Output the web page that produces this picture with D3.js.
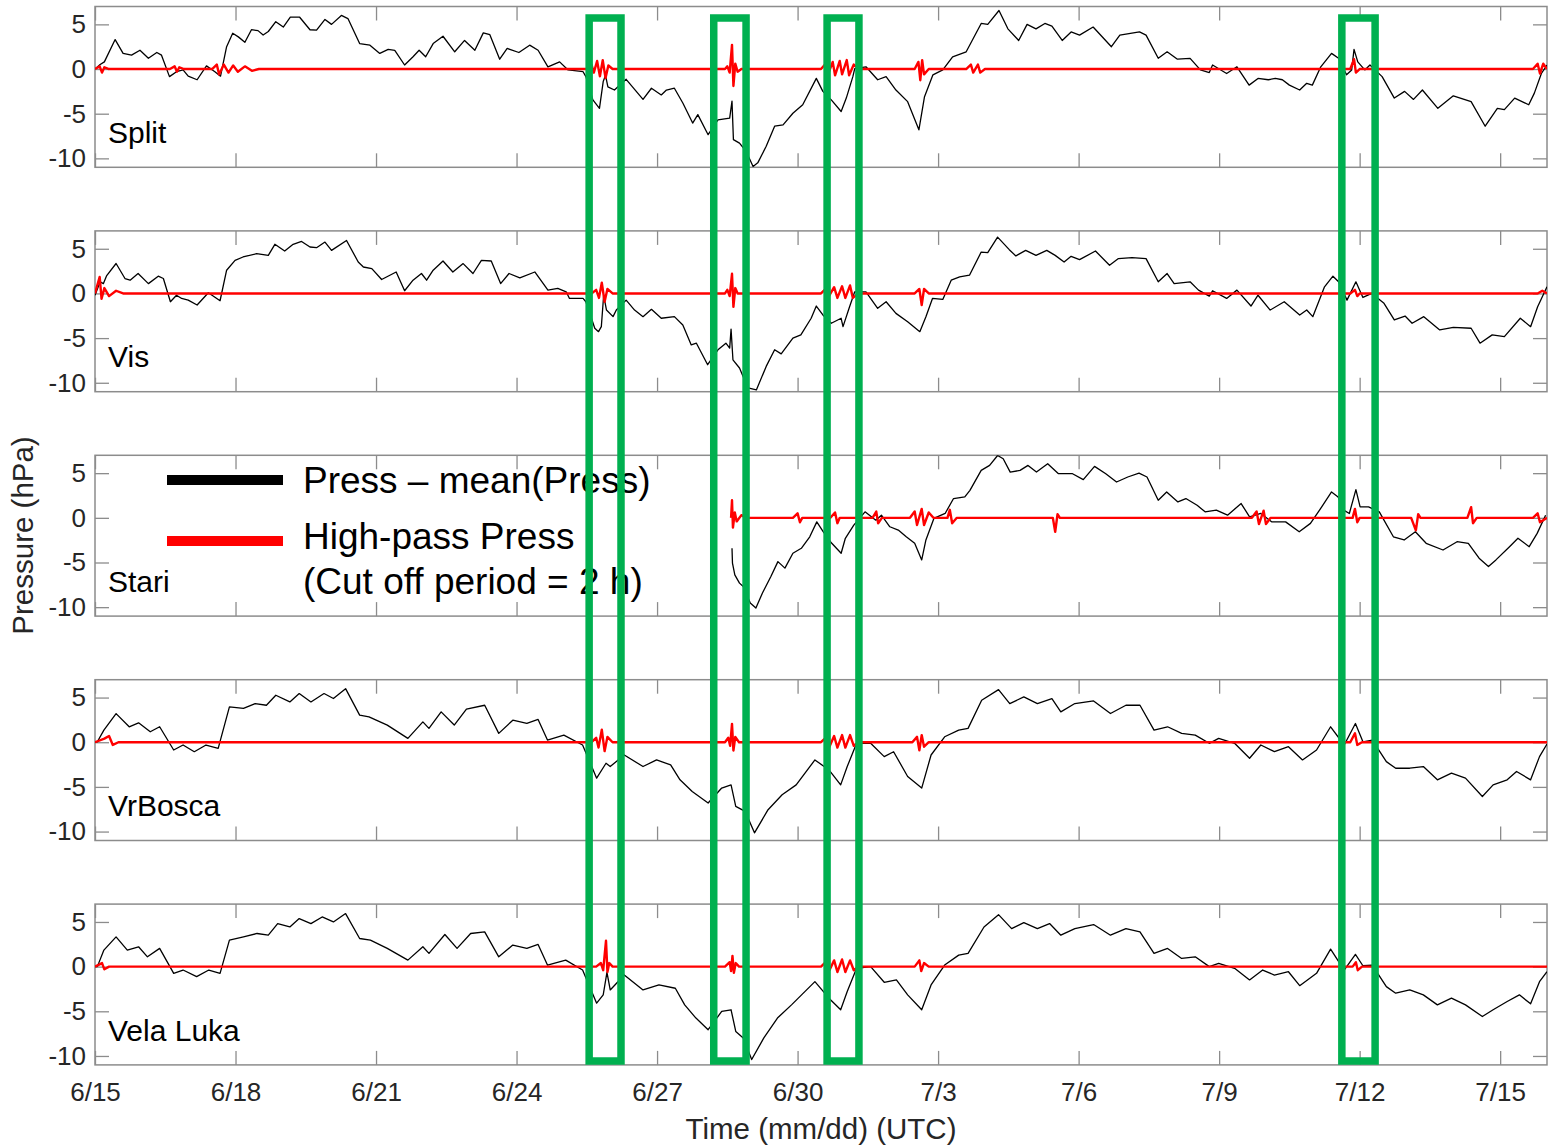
<!DOCTYPE html>
<html>
<head>
<meta charset="utf-8">
<script src="https://cdn.jsdelivr.net/npm/d3@7"></script>
<style>
  body { margin: 0; background: #ffffff; }
  text { font-family: "Liberation Sans", Arial, sans-serif; }
</style>
</head>
<body>
<svg id="mainsvg" width="1548" height="1148"></svg>
<script>
// station names, top to bottom
const stations = ['Split', 'Vis', 'Stari', 'VrBosca', 'Vela Luka'];

// Press - mean(Press), [days since 6/15 00 UTC, hPa]
const splitBlack = [[0,0],[0.11,0.5],[0.2,0.8],[0.43,3.3],[0.6,1.75],[0.78,1.56],[0.96,2.1],[1.14,1.2],[1.32,1.85],[1.42,1.55],[1.59,-0.85],[1.74,-0.3],[1.88,-0.1],[1.99,-0.8],[2.18,-1.2],[2.38,0.35],[2.56,-0.3],[2.68,-0.8],[2.81,2.5],[2.94,4.0],[3.06,3.6],[3.2,3.0],[3.34,4.4],[3.48,4.3],[3.59,3.8],[3.7,4.2],[3.86,5.3],[4.02,4.7],[4.17,5.8],[4.37,5.8],[4.59,4.4],[4.73,4.35],[4.91,5.55],[5.05,5.0],[5.26,6.0],[5.4,5.65],[5.65,2.85],[5.87,2.67],[6.08,1.75],[6.26,2.2],[6.4,2.1],[6.61,0.45],[6.79,1.37],[6.92,2.1],[7.06,1.37],[7.22,2.85],[7.43,3.67],[7.68,1.93],[7.89,3.2],[8.11,2.1],[8.29,4.05],[8.43,3.85],[8.64,1.1],[8.8,2.3],[9.05,1.85],[9.28,2.67],[9.46,2.1],[9.67,0.25],[9.92,0.8],[10.1,-0.1],[10.42,-0.3],[10.48,-0.85],[10.63,-3.45],[10.77,-4.4],[10.85,-1.4],[10.9,-0.7],[10.95,-2.0],[11.09,-2.35],[11.34,-1.15],[11.7,-3.4],[11.88,-2.15],[12.09,-2.9],[12.2,-2.35],[12.37,-2.15],[12.55,-3.8],[12.76,-6.05],[12.87,-5.1],[13.09,-7.35],[13.3,-5.7],[13.55,-5.5],[13.6,-3.6],[13.63,-7.9],[13.76,-8.3],[13.9,-9.2],[14.05,-10.9],[14.15,-10.5],[14.33,-8.65],[14.51,-6.4],[14.69,-6.25],[14.9,-4.95],[15.11,-4.0],[15.4,-1.05],[15.54,-2.5],[15.72,-3.45],[15.93,-4.75],[16.04,-3.25],[16.18,-0.85],[16.22,0.05],[16.46,0.25],[16.71,-1.2],[16.89,-0.85],[17.1,-2.35],[17.35,-3.65],[17.59,-6.8],[17.71,-3.1],[17.89,-0.65],[18.1,-0.1],[18.31,1.37],[18.6,1.93],[18.92,5.1],[19.06,5.0],[19.3,6.55],[19.49,4.5],[19.72,3.2],[19.9,5.0],[20.09,4.5],[20.28,5.1],[20.43,4.8],[20.65,3.2],[20.84,4.15],[21.02,3.8],[21.31,4.7],[21.7,2.5],[21.88,3.8],[22.3,4.15],[22.44,3.8],[22.7,1.2],[22.89,1.93],[23.11,1.1],[23.38,1.2],[23.6,-0.1],[23.79,-0.4],[23.86,0.45],[24.16,-0.5],[24.38,0.25],[24.64,-1.8],[24.83,-1.05],[25.05,-1.2],[25.2,-1.05],[25.35,-1.2],[25.5,-1.8],[25.72,-2.35],[25.87,-1.6],[25.99,-1.8],[26.17,0.25],[26.4,1.75],[26.55,1.2],[26.72,-0.65],[26.83,-0.1],[26.88,2.2],[26.96,0.8],[27.11,-0.1],[27.22,0.45],[27.48,-0.85],[27.74,-3.25],[27.96,-2.5],[28.15,-3.4],[28.34,-2.35],[28.67,-4.4],[29.0,-3.0],[29.38,-3.65],[29.68,-6.4],[29.94,-4.4],[30.09,-4.55],[30.31,-3.25],[30.61,-4.0],[30.73,-2.7],[30.88,-0.5],[31.0,0.45]];

const visBlack = [[0,-0.2],[0.11,1.3],[0.18,1.1],[0.25,2.0],[0.45,3.35],[0.64,1.67],[0.75,1.48],[0.92,2.23],[1.14,1.1],[1.35,1.93],[1.46,1.67],[1.61,-0.93],[1.74,-0.2],[1.85,-0.56],[1.99,-0.75],[2.18,-1.3],[2.42,0.07],[2.67,-0.82],[2.81,2.6],[2.99,3.7],[3.16,4.08],[3.45,4.45],[3.7,4.26],[3.84,5.5],[4.05,4.75],[4.23,5.5],[4.41,5.82],[4.59,5.2],[4.73,5.12],[4.91,5.75],[5.05,4.82],[5.37,5.93],[5.62,3.52],[5.73,2.96],[5.91,2.78],[6.12,1.56],[6.43,2.4],[6.61,0.3],[6.79,1.48],[6.97,2.23],[7.08,1.48],[7.22,2.6],[7.43,3.63],[7.64,2.4],[7.86,3.34],[8.07,2.23],[8.25,3.7],[8.46,3.63],[8.66,1.1],[8.84,2.23],[9.07,1.75],[9.39,2.4],[9.67,0.37],[9.88,0.56],[10.06,0.18],[10.13,-0.56],[10.42,-0.56],[10.48,-0.93],[10.67,-3.9],[10.75,-4.28],[10.81,-3.72],[10.86,-0.2],[10.92,-1.86],[11.06,-2.6],[11.13,-1.86],[11.34,-0.75],[11.52,-1.86],[11.7,-2.6],[11.88,-1.78],[12.09,-2.78],[12.37,-2.6],[12.55,-3.53],[12.73,-5.76],[12.84,-5.57],[13.08,-7.98],[13.3,-6.31],[13.47,-5.57],[13.55,-6.12],[13.58,-4.0],[13.62,-7.43],[13.76,-8.35],[13.94,-10.58],[14.12,-10.8],[14.33,-8.17],[14.51,-6.31],[14.65,-6.76],[14.9,-5.0],[15.07,-4.63],[15.29,-2.78],[15.4,-1.41],[15.54,-2.41],[15.72,-3.34],[15.93,-2.78],[15.97,-3.72],[16.11,-1.49],[16.22,0.18],[16.46,0.18],[16.71,-1.67],[16.89,-0.93],[17.1,-2.23],[17.35,-3.16],[17.61,-4.28],[17.74,-2.6],[17.88,-0.56],[18.1,-0.67],[18.28,1.48],[18.46,1.85],[18.67,2.04],[18.92,4.63],[19.06,4.56],[19.27,6.3],[19.52,4.9],[19.66,4.2],[19.87,4.82],[20.09,4.26],[20.32,4.82],[20.5,4.26],[20.69,3.52],[20.84,4.15],[21.02,3.78],[21.36,4.75],[21.66,3.15],[21.85,3.9],[22.14,4.0],[22.44,3.9],[22.7,1.3],[22.89,2.23],[23.04,1.1],[23.38,1.3],[23.56,0.37],[23.79,-0.3],[23.86,0.3],[24.16,-0.56],[24.38,0.37],[24.68,-1.41],[24.83,-0.2],[25.09,-1.86],[25.39,-0.93],[25.72,-2.41],[25.87,-1.86],[26.0,-2.6],[26.25,0.74],[26.43,1.93],[26.55,1.3],[26.73,-0.75],[26.92,1.3],[27.07,-0.45],[27.26,0.0],[27.52,-1.11],[27.74,-2.97],[27.97,-2.53],[28.12,-3.34],[28.37,-2.6],[28.71,-4.08],[29.0,-3.79],[29.38,-3.9],[29.57,-5.57],[29.83,-4.64],[30.09,-4.83],[30.43,-2.78],[30.65,-3.72],[30.8,-1.49],[31.0,0.74]];

const stariBlack = [[13.6,-3.41],[13.61,-5.08],[13.66,-6.38],[13.76,-7.31],[13.84,-7.68],[13.99,-9.53],[14.11,-10.09],[14.25,-8.42],[14.43,-6.57],[14.58,-4.9],[14.73,-5.63],[14.9,-3.96],[15.08,-3.41],[15.26,-2.12],[15.41,-0.45],[15.55,-1.56],[15.73,-2.85],[15.93,-3.96],[16.02,-2.29],[16.2,-0.81],[16.44,0.67],[16.67,-0.26],[16.79,0.3],[16.97,-1.0],[17.15,-1.37],[17.32,-2.12],[17.5,-2.85],[17.65,-4.71],[17.74,-2.48],[17.91,-0.07],[18.15,0.49],[18.33,2.16],[18.57,2.34],[18.68,3.08],[18.92,5.31],[19.1,5.87],[19.27,6.98],[19.39,6.61],[19.54,5.12],[19.75,5.31],[19.92,5.87],[20.1,5.12],[20.34,6.06],[20.57,4.94],[20.87,4.94],[21.1,4.28],[21.34,5.76],[21.58,4.94],[21.81,4.01],[22.05,4.57],[22.29,5.01],[22.46,4.57],[22.7,1.97],[22.88,2.9],[23.12,1.78],[23.29,2.16],[23.53,1.41],[23.7,0.67],[23.94,0.86],[24.18,0.3],[24.47,1.6],[24.65,0.11],[24.89,0.49],[25.12,-0.45],[25.42,-0.45],[25.71,-1.56],[25.95,-0.62],[26.19,1.22],[26.4,2.9],[26.54,2.34],[26.66,0.86],[26.78,0.49],[26.92,3.16],[27.01,1.22],[27.19,1.22],[27.42,0.67],[27.72,-2.12],[27.95,-2.48],[28.19,-1.56],[28.42,-2.85],[28.78,-3.6],[29.08,-2.67],[29.32,-2.85],[29.55,-4.52],[29.75,-5.45],[29.91,-4.71],[30.2,-3.23],[30.38,-2.29],[30.62,-3.23],[30.79,-1.74],[30.97,0.3]];

const vrboscaBlack = [[0,0],[0.05,0.05],[0.19,1.36],[0.45,3.2],[0.73,1.73],[0.93,2.17],[1.18,1.17],[1.38,1.73],[1.68,-0.87],[1.88,-0.31],[2.12,-1.06],[2.37,-0.31],[2.63,-0.68],[2.87,3.95],[3.17,3.78],[3.42,4.33],[3.66,4.14],[3.86,5.26],[4.16,4.51],[4.36,5.45],[4.61,4.51],[4.89,5.45],[5.09,4.89],[5.35,6.0],[5.65,3.03],[5.85,2.84],[6.24,1.92],[6.68,0.43],[7.0,2.28],[7.13,1.55],[7.39,3.4],[7.67,1.92],[7.93,3.7],[8.32,4.14],[8.62,0.99],[8.92,2.47],[9.22,2.1],[9.46,2.55],[9.66,0.24],[10.01,0.8],[10.41,-0.31],[10.71,-4.02],[10.91,-2.35],[11.0,-2.72],[11.3,-1.43],[11.7,-2.72],[11.99,-1.98],[12.29,-2.54],[12.49,-4.21],[12.75,-5.51],[13.09,-6.8],[13.38,-5.13],[13.58,-4.77],[13.68,-7.18],[13.88,-7.74],[14.08,-10.14],[14.37,-7.55],[14.67,-5.88],[14.97,-4.77],[15.37,-1.98],[15.67,-3.1],[15.92,-4.77],[16.06,-2.72],[16.26,-0.12],[16.56,-0.12],[16.85,-1.61],[17.05,-1.06],[17.35,-3.84],[17.65,-5.13],[17.85,-1.43],[18.14,0.61],[18.44,1.36],[18.64,1.55],[18.93,4.7],[19.29,5.89],[19.53,4.33],[19.83,5.07],[20.12,4.33],[20.43,4.89],[20.62,3.4],[20.92,4.33],[21.32,4.62],[21.68,3.22],[22.01,4.14],[22.31,4.14],[22.61,1.36],[22.9,1.73],[23.2,0.99],[23.49,0.8],[23.79,-0.12],[23.99,0.43],[24.33,-0.12],[24.65,-1.79],[24.89,-0.31],[25.18,-1.06],[25.48,-0.5],[25.78,-1.98],[26.08,-0.87],[26.38,1.73],[26.67,-0.31],[26.91,2.1],[27.07,0.05],[27.27,0.24],[27.57,-2.17],[27.77,-2.91],[28.07,-2.91],[28.36,-2.72],[28.66,-4.21],[28.96,-3.46],[29.26,-4.02],[29.62,-6.07],[29.85,-4.77],[30.15,-4.21],[30.35,-3.28],[30.65,-4.21],[30.84,-1.61],[31.0,-0.2]];

const velaBlack = [[0,0],[0.05,0],[0.19,1.85],[0.45,3.33],[0.69,1.85],[0.93,2.22],[1.12,1.1],[1.38,2.04],[1.68,-0.75],[1.88,-0.38],[2.17,-1.12],[2.43,-0.38],[2.67,-0.75],[2.87,2.96],[3.17,3.33],[3.46,3.71],[3.7,3.52],[3.9,4.82],[4.16,4.44],[4.36,5.38],[4.61,4.82],[4.85,5.56],[5.09,5.0],[5.35,5.94],[5.65,3.15],[5.88,2.96],[6.24,2.04],[6.68,0.73],[7.0,2.22],[7.13,1.48],[7.47,3.6],[7.73,2.04],[8.02,3.71],[8.32,3.89],[8.62,1.1],[8.92,2.41],[9.22,2.04],[9.46,2.48],[9.66,0.18],[10.05,0.73],[10.41,-0.38],[10.71,-4.09],[10.85,-3.16],[10.93,-0.64],[11.0,-2.61],[11.3,-0.94],[11.7,-2.61],[12.04,-2.05],[12.39,-2.42],[12.59,-4.28],[12.83,-5.76],[13.09,-7.06],[13.38,-5.02],[13.58,-4.83],[13.68,-7.25],[13.84,-7.98],[14.02,-10.4],[14.28,-7.98],[14.57,-5.76],[14.87,-4.28],[15.37,-1.68],[15.67,-3.53],[15.92,-4.83],[16.06,-2.79],[16.26,-0.19],[16.56,0],[16.85,-1.75],[17.11,-1.49],[17.35,-3.16],[17.65,-4.83],[17.85,-2.05],[18.14,0.18],[18.44,1.29],[18.64,1.48],[18.98,4.44],[19.29,5.82],[19.57,4.26],[19.83,4.93],[20.12,4.26],[20.38,4.82],[20.62,3.52],[20.92,4.26],[21.32,4.71],[21.68,3.52],[22.01,4.26],[22.31,3.89],[22.61,1.48],[22.9,2.04],[23.2,0.92],[23.49,1.1],[23.79,0],[23.99,0.37],[24.33,-0.19],[24.65,-1.49],[24.93,-0.38],[25.18,-0.94],[25.48,-0.57],[25.72,-2.13],[26.08,-0.75],[26.38,1.96],[26.67,-0.38],[26.91,1.37],[27.07,0.1],[27.27,0.18],[27.57,-2.24],[27.77,-2.97],[28.07,-2.61],[28.36,-3.16],[28.66,-4.28],[28.96,-3.53],[29.26,-4.28],[29.62,-5.58],[29.85,-4.83],[30.15,-3.9],[30.41,-3.16],[30.65,-4.16],[30.84,-1.68],[31.0,-0.57]];

// High-pass Press (cut off period = 2 h)
const splitRed = [[0,0],[0.1,0.3],[0.15,-0.4],[0.2,0.2],[0.3,0],[1.6,0],[1.7,0.3],[1.75,-0.3],[1.8,0.2],[1.9,0],[2.5,0],[2.6,0.5],[2.65,-0.6],[2.75,0.5],[2.85,-0.4],[2.95,0.4],[3.05,-0.3],[3.2,0.3],[3.35,-0.2],[3.5,0],[10.5,0],[10.6,0.5],[10.65,-0.4],[10.72,0.9],[10.78,-0.8],[10.84,1.0],[10.9,-1.0],[10.96,0.4],[11.05,0],[13.45,0],[13.5,0.3],[13.55,-0.4],[13.6,2.7],[13.63,-1.9],[13.67,0.6],[13.72,-0.3],[13.8,0],[15.5,0],[15.6,0.6],[15.65,-0.6],[15.75,0.8],[15.8,-0.7],[15.9,0.9],[15.95,-0.6],[16.05,1.0],[16.1,-0.7],[16.2,0.5],[16.3,0],[17.5,0],[17.58,0.8],[17.62,-1.25],[17.66,1.0],[17.7,-0.6],[17.8,0],[18.6,0],[18.7,0.5],[18.75,-0.4],[18.85,0.5],[18.9,-0.4],[19.0,0],[26.8,0],[26.88,1.1],[26.92,-0.4],[27.0,0],[30.7,0],[30.8,0.6],[30.85,-0.5],[30.92,0.6],[31,0]];
const visRed = [[0,0],[0.1,1.85],[0.14,-0.6],[0.2,0.6],[0.3,-0.3],[0.45,0.3],[0.6,0],[10.6,0],[10.7,0.4],[10.76,-0.5],[10.82,1.2],[10.88,-0.93],[10.94,0.5],[11.05,0],[13.45,0],[13.5,0.4],[13.55,-0.3],[13.6,2.2],[13.63,-1.5],[13.67,0.6],[13.72,0],[15.5,0],[15.6,0.5],[15.66,-0.4],[15.78,0.7],[15.85,-0.5],[15.95,0.8],[16.02,-0.5],[16.12,0.9],[16.18,-0.5],[16.3,0],[17.5,0],[17.6,0.5],[17.65,-1.3],[17.7,0.5],[17.8,0],[26.8,0],[26.9,0.4],[26.95,-0.3],[27.0,0],[30.8,0],[30.9,0.3],[31,0]];
const stariRed = [[13.58,0],[13.6,1.97],[13.62,-1.1],[13.66,0.6],[13.7,-0.4],[13.8,0.3],[13.9,0],[14.9,0],[15.0,0.5],[15.05,-0.5],[15.1,0],[15.7,0],[15.8,0.6],[15.85,-0.6],[15.9,0],[16.6,0],[16.68,0.7],[16.72,-0.6],[16.8,0],[17.4,0],[17.5,0.7],[17.55,-0.8],[17.65,1.0],[17.7,-0.8],[17.8,0.6],[17.9,0],[18.2,0],[18.25,0.9],[18.3,-0.6],[18.4,0],[20.45,0],[20.5,-1.56],[20.55,0.4],[20.6,0],[24.7,0],[24.8,0.7],[24.85,-0.7],[24.95,0.8],[25.0,-0.7],[25.1,0],[26.85,0],[26.9,1.0],[26.95,-0.5],[27.0,0],[28.1,0],[28.2,-1.4],[28.25,0.4],[28.3,0],[29.3,0],[29.38,1.2],[29.42,-0.6],[29.5,0],[30.7,0],[30.8,0.5],[30.85,-0.5],[31,0]];
const vrboscaRed = [[0,0],[0.2,0.4],[0.3,0.7],[0.38,-0.3],[0.5,0],[10.6,0],[10.7,0.5],[10.75,-0.6],[10.82,1.4],[10.88,-1.0],[10.94,0.6],[11.05,0],[13.45,0],[13.52,0.5],[13.56,-0.4],[13.6,2.05],[13.63,-0.93],[13.67,0.6],[13.75,0],[15.5,0],[15.6,0.5],[15.68,-0.5],[15.78,0.7],[15.85,-0.6],[15.95,0.8],[16.02,-0.6],[16.12,0.8],[16.2,-0.4],[16.3,0],[17.45,0],[17.55,0.6],[17.6,-0.9],[17.65,0.8],[17.7,-0.5],[17.8,0],[26.8,0],[26.9,1.0],[26.95,-0.3],[27.05,0],[31,0]];
const velaRed = [[0,0],[0.15,0.4],[0.2,-0.3],[0.3,0],[10.7,0],[10.8,0.4],[10.85,-0.4],[10.91,2.9],[10.94,-0.6],[10.98,0.4],[11.05,0],[13.45,0],[13.55,0.5],[13.58,-0.5],[13.61,1.2],[13.64,-0.7],[13.68,0.4],[13.75,0],[15.5,0],[15.6,0.5],[15.68,-0.4],[15.78,0.7],[15.85,-0.6],[15.95,0.8],[16.02,-0.6],[16.12,0.7],[16.2,-0.4],[16.3,0],[17.5,0],[17.6,0.7],[17.64,-0.5],[17.7,0.4],[17.8,0],[26.85,0],[26.92,0.5],[26.96,-0.4],[27.05,0],[31,0]];

const blackSeries = [splitBlack, visBlack, stariBlack, vrboscaBlack, velaBlack];
const redSeries = [splitRed, visRed, stariRed, vrboscaRed, velaRed];

// axes
const xTickDays = [0, 3, 6, 9, 12, 15, 18, 21, 24, 27, 30];
const xTickLabels = ['6/15', '6/18', '6/21', '6/24', '6/27', '6/30', '7/3', '7/6', '7/9', '7/12', '7/15'];
const yTicks = [5, 0, -5, -10];

// highlighted events [start, end] in days
const events = [[10.55, 11.23], [13.21, 13.90], [15.63, 16.31], [26.62, 27.33]];

const svg = d3.select('#mainsvg');
const left = 95, right = 1547;
const panelTop0 = 6.5, panelStep = 224.4, panelH = 160.8;
const axisColor = '#8c8c8c';
const labelColor = '#262626';

const xScale = d3.scaleLinear().domain([0, 31]).range([left, right]);

const line = d3.line().x(d => xScale(d[0]));

stations.forEach((name, i) => {
    const top = panelTop0 + i * panelStep;
    const yScale = d3.scaleLinear().domain([-11, 7]).range([top + panelH, top]);
    const g = svg.append('g').attr('class', 'panel');

    g.append('clipPath').attr('id', 'clip' + i)
        .append('rect').attr('x', left).attr('y', top).attr('width', right - left).attr('height', panelH);

    // plain hyphen for negatives, like the original
    const yAxis = d3.axisLeft(yScale).tickValues(yTicks).tickSize(-14).tickPadding(9)
        .tickFormat(d => String(d));
    const yAxisR = d3.axisRight(yScale).tickValues(yTicks).tickSize(-14).tickFormat('');
    const xAxisB = d3.axisBottom(xScale).tickValues(xTickDays).tickSize(-14).tickPadding(18)
        .tickFormat((d, k) => i === stations.length - 1 ? xTickLabels[k] : '');
    const xAxisT = d3.axisTop(xScale).tickValues(xTickDays).tickSize(-14).tickFormat('');

    const axes = [
        g.append('g').attr('transform', `translate(${left},0)`).call(yAxis),
        g.append('g').attr('transform', `translate(${right},0)`).call(yAxisR),
        g.append('g').attr('transform', `translate(0,${top + panelH})`).call(xAxisB),
        g.append('g').attr('transform', `translate(0,${top})`).call(xAxisT)
    ];
    axes.forEach(a => {
        a.select('.domain').remove();
        a.selectAll('.tick line').attr('stroke', axisColor).attr('stroke-width', 1.3);
        a.selectAll('.tick text').attr('fill', labelColor).style('font-size', '26px')
            .style('font-family', '"Liberation Sans", Arial, sans-serif');
    });

    g.append('rect')
        .attr('x', left).attr('y', top).attr('width', right - left).attr('height', panelH)
        .attr('fill', 'none').attr('stroke', axisColor).attr('stroke-width', 1.5);

    const lg = g.append('g').attr('clip-path', `url(#clip${i})`);
    lg.append('path')
        .datum(blackSeries[i])
        .attr('d', line.y(d => yScale(d[1])))
        .attr('fill', 'none').attr('stroke', '#000').attr('stroke-width', 1.3)
        .attr('stroke-linejoin', 'round');
    lg.append('path')
        .datum(redSeries[i])
        .attr('d', line.y(d => yScale(d[1])))
        .attr('fill', 'none').attr('stroke', '#ff0000').attr('stroke-width', 2.4)
        .attr('stroke-linejoin', 'round');

    g.append('text')
        .attr('x', 108).attr('y', top + 136.5)
        .attr('fill', '#000').style('font-size', '30px')
        .text(name);
});

// legend inside the Stari panel
const legend = svg.append('g');
legend.append('line').attr('x1', 167).attr('x2', 283).attr('y1', 480).attr('y2', 480)
    .attr('stroke', '#000').attr('stroke-width', 10);
legend.append('line').attr('x1', 167).attr('x2', 283).attr('y1', 541).attr('y2', 541)
    .attr('stroke', '#ff0000').attr('stroke-width', 10);
legend.append('text').attr('x', 303).attr('y', 493).style('font-size', '37px').attr('fill', '#000')
    .text('Press – mean(Press)');
legend.append('text').attr('x', 303).attr('y', 549).style('font-size', '37px').attr('fill', '#000')
    .text('High-pass Press');
legend.append('text').attr('x', 303).attr('y', 594).style('font-size', '37px').attr('fill', '#000')
    .text('(Cut off period = 2 h)');

// axis titles
svg.append('text')
    .attr('x', (left + right) / 2).attr('y', 1139)
    .attr('text-anchor', 'middle').attr('fill', labelColor).style('font-size', '29.5px')
    .text('Time (mm/dd) (UTC)');
svg.append('text')
    .attr('transform', 'translate(33,535.5) rotate(-90)')
    .attr('text-anchor', 'middle').attr('fill', labelColor).style('font-size', '29.5px')
    .text('Pressure (hPa)');

// green event boxes across all panels
svg.append('g').selectAll('rect')
    .data(events)
    .enter().append('rect')
    .attr('x', d => xScale(d[0]))
    .attr('width', d => xScale(d[1]) - xScale(d[0]))
    .attr('y', 18)
    .attr('height', 1061 - 18)
    .attr('fill', 'none')
    .attr('stroke', '#00b050')
    .attr('stroke-width', 7.5);
</script>
</body>
</html>
